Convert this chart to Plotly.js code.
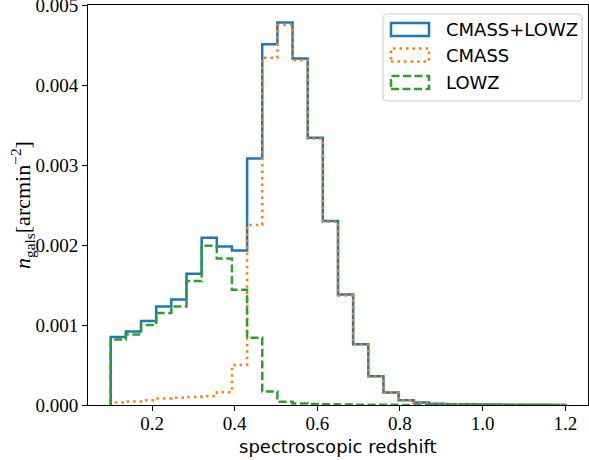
<!DOCTYPE html>
<html>
<head>
<meta charset="utf-8">
<script src="https://cdn.plot.ly/plotly-3.0.1.min.js"></script>
<style>
  html, body { margin: 0; padding: 0; background: #fff; }
  #chart { width: 589px; height: 460px; }
</style>
</head>
<body>
<div id="chart"></div>
<script>
// Bin edges of the spectroscopic-redshift histogram (30 bins, 0.1 to 1.2)
const binEdges = [0.1, 0.13667, 0.17333, 0.21, 0.24667, 0.28333, 0.32, 0.35667, 0.39333, 0.43,
  0.46667, 0.50333, 0.54, 0.57667, 0.61333, 0.65, 0.68667, 0.72333, 0.76, 0.79667,
  0.83333, 0.87, 0.90667, 0.94333, 0.98, 1.01667, 1.05333, 1.09, 1.12667, 1.16333, 1.2];

// n_gals per bin [arcmin^-2]
const cmassLowz = [0.00085, 0.00092, 0.00105, 0.00123, 0.00132, 0.00164, 0.00209, 0.00198, 0.00193, 0.00308,
  0.00451, 0.00478, 0.00433, 0.00334, 0.00230, 0.00138, 0.00076, 0.00036, 0.000155, 0.00006,
  0.00003, 0.000015, 0.00001, 0.000008, 0.000006, 0.000005, 0.000004, 0.000003, 0.000002, 0.000001];
const cmass = [0.00003, 0.000045, 0.00006, 0.00008, 0.00009, 0.0001, 0.00011, 0.00016, 0.0005, 0.00225,
  0.00434, 0.00475, 0.00431, 0.00333, 0.00229, 0.00137, 0.000755, 0.000357, 0.000153, 0.000059,
  0.00003, 0.000014, 0.000009, 0.000007, 0.000005, 0.000004, 0.000003, 0.000002, 0.000002, 0.000001];
const lowz = [0.00082, 0.00088, 0.00100, 0.00115, 0.00123, 0.00155, 0.00199, 0.00183, 0.00144, 0.00084,
  0.000168, 0.00004, 0.00002, 0.000012, 0.000008, 0.000006, 0.000004, 0.000003, 0.000002, 0.0000015,
  0.000001, 0.000001, 0.0000008, 0.0000006, 0.0000005, 0.0000004, 0.0000003, 0.0000002, 0.0000002, 0.0000001];

const seriesNames = ['CMASS+LOWZ', 'CMASS', 'LOWZ'];
const seriesColors = ['#1f77b4', '#ff7f0e', '#2ca02c'];
const seriesDash = ['solid', '2.5px,4px', '8px,3.5px'];

function stepXY(edges, vals) {
  const x = [edges[0]].concat(edges);
  const y = [0].concat(vals, [0]);
  return {x, y};
}

const allVals = [cmassLowz, cmass, lowz];
const traces = allVals.map((v, i) => {
  const s = stepXY(binEdges, v);
  return {
    type: 'scatter', mode: 'lines', x: s.x, y: s.y, name: seriesNames[i],
    line: {shape: 'hv', color: seriesColors[i], width: 2.5, dash: seriesDash[i]},
    showlegend: false, hoverinfo: 'skip'
  };
});

// Plot area in pixels: left 88, right 588, top 5, bottom 405
const L = 88, W = 500, T = 5, H = 400;
const px = p => (p - L) / W;
const py = p => (T + H - p) / H;

const shapes = [];
const annotations = [];

// legend frame (rounded)
const bx0 = px(383), bx1 = px(582), by0 = py(101), by1 = py(14);
const rx = 4 / W, ry = 4 / H;
shapes.push({
  type: 'path', xref: 'paper', yref: 'paper', layer: 'above',
  path: `M ${bx0 + rx} ${by1} L ${bx1 - rx} ${by1} Q ${bx1} ${by1} ${bx1} ${by1 - ry} ` +
        `L ${bx1} ${by0 + ry} Q ${bx1} ${by0} ${bx1 - rx} ${by0} L ${bx0 + rx} ${by0} ` +
        `Q ${bx0} ${by0} ${bx0} ${by0 + ry} L ${bx0} ${by1 - ry} Q ${bx0} ${by1} ${bx0 + rx} ${by1} Z`,
  line: {color: '#cccccc', width: 1}, fillcolor: 'rgba(255,255,255,0.8)'
});
const rowCenters = [29.5, 55, 82.5];
rowCenters.forEach((c, i) => {
  shapes.push({
    type: 'rect', xref: 'paper', yref: 'paper', layer: 'above',
    x0: px(391), x1: px(429), y0: py(c + 6.5), y1: py(c - 6.5),
    line: {color: seriesColors[i], width: 2.5, dash: seriesDash[i]},
    fillcolor: 'rgba(0,0,0,0)'
  });
  annotations.push({
    xref: 'paper', yref: 'paper', x: px(444), y: py(c), xanchor: 'left', yanchor: 'middle',
    text: seriesNames[i], showarrow: false,
    font: {family: 'DejaVu Sans', size: 18, color: '#000'}
  });
});

// axis titles
annotations.push({
  xref: 'paper', yref: 'paper', x: 0.5, y: py(446), xanchor: 'center', yanchor: 'middle',
  text: 'spectroscopic redshift', showarrow: false,
  font: {family: 'DejaVu Sans', size: 18, color: '#000'}
});
annotations.push({
  xref: 'paper', yref: 'paper', x: px(22), y: 0.5, xanchor: 'center', yanchor: 'middle',
  textangle: -90, showarrow: false,
  text: '<i>n</i><sub>gals</sub>[arcmin<sup>−2</sup>]',
  font: {family: 'Liberation Serif', size: 22, color: '#000'}
});

const layout = {
  width: 589, height: 460,
  margin: {l: L, r: 589 - L - W, t: T, b: 460 - T - H, pad: 0},
  paper_bgcolor: '#fff', plot_bgcolor: '#fff',
  showlegend: false,
  xaxis: {
    range: [0.045, 1.255], tick0: 0, dtick: 0.2, tickformat: '.1f',
    ticks: 'outside', ticklen: 5, tickwidth: 1, tickcolor: '#000',
    ticklabelstandoff: -4, ticklabeloverflow: 'allow',
    showline: true, mirror: true, linecolor: '#000', linewidth: 1,
    showgrid: false, zeroline: false,
    tickfont: {family: 'Liberation Serif', size: 19, color: '#000'}
  },
  yaxis: {
    range: [0, 0.0050001], tick0: 0, dtick: 0.001, tickformat: '.3f',
    ticks: 'outside', ticklen: 5, tickwidth: 1, tickcolor: '#000',
    ticklabeloverflow: 'allow',
    showline: true, mirror: true, linecolor: '#000', linewidth: 1,
    showgrid: false, zeroline: false,
    tickfont: {family: 'Liberation Serif', size: 19, color: '#000'}
  },
  shapes: shapes,
  annotations: annotations
};

Plotly.newPlot('chart', traces, layout, {staticPlot: true, displayModeBar: false});
</script>
</body>
</html>
